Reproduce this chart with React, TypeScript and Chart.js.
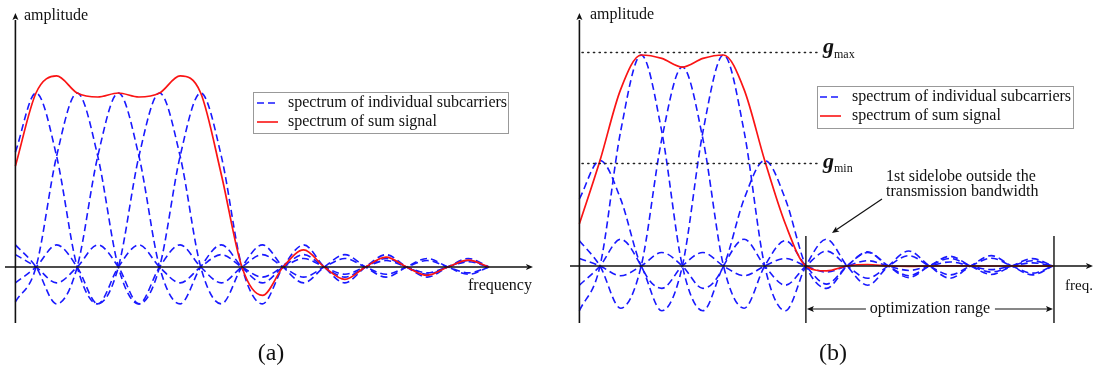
import React, { useEffect, useRef } from "react";
import { Chart, registerables } from "chart.js";

Chart.register(...registerables);

// frequency grid in units of subcarrier spacing
const gridX = [-0.5, 0, 0.5, 1, 1.5, 2, 2.5, 3, 3.5, 4, 4.5, 5, 5.5, 6, 6.5, 7, 7.5, 8, 8.5, 9, 9.5, 10, 10.5, 11];

// panel (a): individual subcarrier spectra (equal amplitudes)
const subA0 = [0.66, 1, 0.637, 0, -0.212, 0, 0.127, 0, -0.091, 0, 0.071, 0, -0.058, 0, 0.049, 0, -0.042, 0, 0.037, 0, -0.034, 0, 0.03, 0];
const subA1 = [-0.2, 0, 0.637, 1, 0.637, 0, -0.212, 0, 0.127, 0, -0.091, 0, 0.071, 0, -0.058, 0, 0.049, 0, -0.042, 0, 0.037, 0, -0.034, 0];
const subA2 = [0.127, 0, -0.212, 0, 0.637, 1, 0.637, 0, -0.212, 0, 0.127, 0, -0.091, 0, 0.071, 0, -0.058, 0, 0.049, 0, -0.042, 0, 0.037, 0];
const subA3 = [-0.091, 0, 0.127, 0, -0.212, 0, 0.637, 1, 0.637, 0, -0.212, 0, 0.127, 0, -0.091, 0, 0.071, 0, -0.058, 0, 0.049, 0, -0.042, 0];
const subA4 = [0.071, 0, -0.091, 0, 0.127, 0, -0.212, 0, 0.637, 1, 0.637, 0, -0.212, 0, 0.127, 0, -0.091, 0, 0.071, 0, -0.058, 0, 0.049, 0];
const sumA = [0.58, 1, 1.098, 1, 0.977, 1, 0.977, 1, 1.098, 1, 0.532, 0, -0.163, 0, 0.098, 0, -0.071, 0, 0.057, 0, -0.048, 0, 0.04, 0];

// panel (b): weighted subcarrier spectra
const subB0 = [0.318, 0.5, 0.318, 0, -0.106, 0, 0.064, 0, -0.046, 0, 0.036, 0, -0.029, 0, 0.025, 0, -0.021, 0, 0.019, 0, -0.017, 0, 0.015, 0];
const subB1 = [-0.212, 0, 0.637, 1, 0.637, 0, -0.212, 0, 0.127, 0, -0.091, 0, 0.071, 0, -0.058, 0, 0.049, 0, -0.042, 0, 0.037, 0, -0.034, 0];
const subB2 = [0.12, 0, -0.2, 0, 0.601, 0.943, 0.601, 0, -0.2, 0, 0.12, 0, -0.086, 0, 0.067, 0, -0.055, 0, 0.046, 0, -0.04, 0, 0.035, 0];
const subB3 = [-0.091, 0, 0.127, 0, -0.212, 0, 0.637, 1, 0.637, 0, -0.212, 0, 0.127, 0, -0.091, 0, 0.071, 0, -0.058, 0, 0.049, 0, -0.042, 0];
const subB4 = [0.036, 0, -0.046, 0, 0.064, 0, -0.106, 0, 0.318, 0.5, 0.318, 0, -0.106, 0, 0.064, 0, -0.046, 0, 0.036, 0, -0.029, 0, 0.025, 0];
const sumB = [0.2, 0.5, 0.836, 1, 0.984, 0.943, 0.984, 1, 0.836, 0.5, 0.2, 0, -0.023, 0, 0.007, 0, -0.002, 0, 0.001, 0, 0, 0, -0.001, 0];

const gMax = 1.015;
const gMin = 0.49;
const optRange = [5, 11];

const legendLabels = ["spectrum of individual subcarriers", "spectrum of sum signal"];
const panelLabels = ["(a)", "(b)"];
const yAxisLabel = "amplitude";
const xAxisLabels = ["frequency", "freq."];
const sidelobeNote = ["1st sidelobe outside the", "transmission bandwidth"];
const rangeLabel = "optimization range";

const BLUE = "rgb(25,25,255)";
const RED = "rgb(250,20,20)";
const INK = "#111";
const SERIF = "'Liberation Serif', 'Times New Roman', serif";
const W = 547;
const H = 376;

function arrowHead(ctx: CanvasRenderingContext2D, x: number, y: number, ang: number) {
  ctx.save();
  ctx.translate(x, y);
  ctx.rotate(ang);
  ctx.beginPath();
  ctx.moveTo(0, 0);
  ctx.lineTo(-7, -3);
  ctx.lineTo(-5.5, 0);
  ctx.lineTo(-7, 3);
  ctx.closePath();
  ctx.fillStyle = INK;
  ctx.fill();
  ctx.restore();
}

function line(ctx: CanvasRenderingContext2D, x1: number, y1: number, x2: number, y2: number, w = 1.5) {
  ctx.beginPath();
  ctx.moveTo(x1, y1);
  ctx.lineTo(x2, y2);
  ctx.lineWidth = w;
  ctx.strokeStyle = INK;
  ctx.stroke();
}

function text(ctx: CanvasRenderingContext2D, s: string, x: number, y: number, font: string, align: CanvasTextAlign = "left", base: CanvasTextBaseline = "alphabetic") {
  ctx.font = font;
  ctx.fillStyle = INK;
  ctx.textAlign = align;
  ctx.textBaseline = base;
  ctx.fillText(s, x, y);
}

function legend(ctx: CanvasRenderingContext2D, bx: number, by: number, bw: number, bh: number, sx: number, tx: number, y1: number, y2: number) {
  ctx.save();
  ctx.fillStyle = "#fff";
  ctx.fillRect(bx, by, bw, bh);
  ctx.strokeStyle = "#999";
  ctx.lineWidth = 1;
  ctx.strokeRect(bx + 0.5, by + 0.5, bw, bh);
  ctx.setLineDash([7, 4]);
  ctx.beginPath();
  ctx.moveTo(sx, y1);
  ctx.lineTo(sx + 21, y1);
  ctx.strokeStyle = BLUE;
  ctx.lineWidth = 1.6;
  ctx.stroke();
  ctx.setLineDash([]);
  ctx.beginPath();
  ctx.moveTo(sx, y2);
  ctx.lineTo(sx + 21, y2);
  ctx.strokeStyle = RED;
  ctx.stroke();
  text(ctx, legendLabels[0], tx, y1, `16px ${SERIF}`, "left", "middle");
  text(ctx, legendLabels[1], tx, y2, `16px ${SERIF}`, "left", "middle");
  ctx.restore();
}

type Panel = {
  subs: number[][];
  sum: number[];
  x: [number, number];
  y: [number, number];
  deco: (chart: any) => void;
};

function axes(ctx: CanvasRenderingContext2D, xs: (v: number) => number, ys: (v: number) => number, yBottom: number, xLeft: number, xRight: number) {
  const ax = xs(-0.5);
  const ay = ys(0);
  line(ctx, ax, ys(yBottom), ax, 20, 1.6);
  arrowHead(ctx, ax, 13, -Math.PI / 2);
  line(ctx, xLeft, ay, xRight - 6, ay, 1.6);
  arrowHead(ctx, xRight, ay, 0);
}

const panelA: Panel = {
  subs: [subA0, subA1, subA2, subA3, subA4],
  sum: sumA,
  x: [-36 / 41.18, 511 / 41.18],
  y: [-109 / 174, 267 / 174],
  deco: (chart) => {
    const ctx = chart.ctx as CanvasRenderingContext2D;
    const xs = (v: number) => chart.scales.x.getPixelForValue(v);
    const ys = (v: number) => chart.scales.y.getPixelForValue(v);
    axes(ctx, xs, ys, -0.322, 5, 533);
    text(ctx, yAxisLabel, 24, 20, `16px ${SERIF}`);
    text(ctx, xAxisLabels[0], 468, 290, `16px ${SERIF}`);
    legend(ctx, 253, 92, 255, 41, 257, 288, 103, 122);
    text(ctx, panelLabels[0], 271, 360, `24px ${SERIF}`, "center");
  },
};

const panelB: Panel = {
  subs: [subB0, subB1, subB2, subB3, subB4],
  sum: sumB,
  x: [-53 / 41.18, 494 / 41.18],
  y: [-110 / 211, 266 / 211],
  deco: (chart) => {
    const ctx = chart.ctx as CanvasRenderingContext2D;
    const xs = (v: number) => chart.scales.x.getPixelForValue(v);
    const ys = (v: number) => chart.scales.y.getPixelForValue(v);
    const off = 547;
    axes(ctx, xs, ys, -0.27, 570 - off, 1093 - off);
    text(ctx, yAxisLabel, 590 - off, 19, `16px ${SERIF}`);
    text(ctx, xAxisLabels[1], 1065 - off, 290, `15px ${SERIF}`);
    // g lines
    ctx.save();
    ctx.setLineDash([1.3, 4.4]);
    ctx.lineCap = "round";
    for (const g of [gMax, gMin]) {
      ctx.beginPath();
      ctx.moveTo(582 - off, Math.round(ys(g)) + 0.5);
      ctx.lineTo(817 - off, Math.round(ys(g)) + 0.5);
      ctx.lineWidth = 1.4;
      ctx.strokeStyle = "#222";
      ctx.stroke();
    }
    ctx.restore();
    text(ctx, "g", 823 - off, ys(gMax) + 1, `italic bold 22px ${SERIF}`);
    text(ctx, "max", 834 - off, ys(gMax) + 6, `12px ${SERIF}`);
    text(ctx, "g", 823 - off, ys(gMin) + 5, `italic bold 22px ${SERIF}`);
    text(ctx, "min", 834 - off, ys(gMin) + 9, `12px ${SERIF}`);
    legend(ctx, 817 - off, 86, 256, 42, 820 - off, 852 - off, 97, 116);
    // sidelobe note
    text(ctx, sidelobeNote[0], 886 - off, 177, `16px ${SERIF}`, "left", "middle");
    text(ctx, sidelobeNote[1], 886 - off, 192, `16px ${SERIF}`, "left", "middle");
    line(ctx, 882 - off, 199, 836 - off, 230, 1.2);
    arrowHead(ctx, 832 - off, 233, Math.atan2(233 - 199, 832 - 882));
    // optimization range
    const x1 = xs(optRange[0]);
    const x2 = xs(optRange[1]) + 1;
    line(ctx, x1, 236, x1, 323, 1.4);
    line(ctx, x2, 236, x2, 323, 1.4);
    const ym = 309;
    const mid = (x1 + x2) / 2;
    line(ctx, x1 + 4, ym, mid - 64, ym, 1.2);
    line(ctx, mid + 65, ym, x2 - 4, ym, 1.2);
    arrowHead(ctx, x1 + 1, ym, Math.PI);
    arrowHead(ctx, x2 - 1, ym, 0);
    text(ctx, rangeLabel, mid, ym, `16px ${SERIF}`, "center", "middle");
    text(ctx, panelLabels[1], 833 - off, 360, `24px ${SERIF}`, "center");
  },
};

function buildConfig(p: Panel): any {
  const pts = (vals: number[]) => gridX.map((x, i) => ({ x, y: vals[i] }));
  const datasets: any[] = [
    {
      label: legendLabels[1],
      data: pts(p.sum),
      borderColor: RED,
      borderWidth: 1.7,
      pointRadius: 0,
      cubicInterpolationMode: "monotone",
      fill: false,
    },
    ...p.subs.map((s, i) => ({
      label: i === 0 ? legendLabels[0] : `${legendLabels[0]} ${i + 1}`,
      data: pts(s),
      borderColor: BLUE,
      borderWidth: 1.6,
      borderDash: [7, 4],
      pointRadius: 0,
      cubicInterpolationMode: "monotone",
      fill: false,
    })),
  ];
  return {
    type: "line",
    data: { datasets },
    options: {
      animation: false,
      responsive: false,
      devicePixelRatio: 1,
      events: [],
      layout: { padding: 0 },
      plugins: { legend: { display: false }, tooltip: { enabled: false }, title: { display: false } },
      scales: {
        x: { type: "linear", min: p.x[0], max: p.x[1], display: false },
        y: { type: "linear", min: p.y[0], max: p.y[1], display: false },
      },
    },
    plugins: [
      {
        id: "deco",
        afterDatasetsDraw: (chart: any) => {
          chart.ctx.save();
          p.deco(chart);
          chart.ctx.restore();
        },
      },
    ],
  };
}

function PanelChart({ panel, left }: { panel: Panel; left: number }) {
  const ref = useRef<HTMLCanvasElement>(null);
  useEffect(() => {
    const chart = new Chart(ref.current as HTMLCanvasElement, buildConfig(panel));
    return () => chart.destroy();
  }, [panel]);
  return (
    <canvas
      ref={ref}
      width={W}
      height={H}
      style={{ position: "absolute", left, top: 0, width: W, height: H }}
    />
  );
}

export default function App() {
  return (
    <div style={{ position: "fixed", left: 0, top: 0, width: 1094, height: 376, background: "#fff", overflow: "hidden" }}>
      <PanelChart panel={panelA} left={0} />
      <PanelChart panel={panelB} left={547} />
    </div>
  );
}
